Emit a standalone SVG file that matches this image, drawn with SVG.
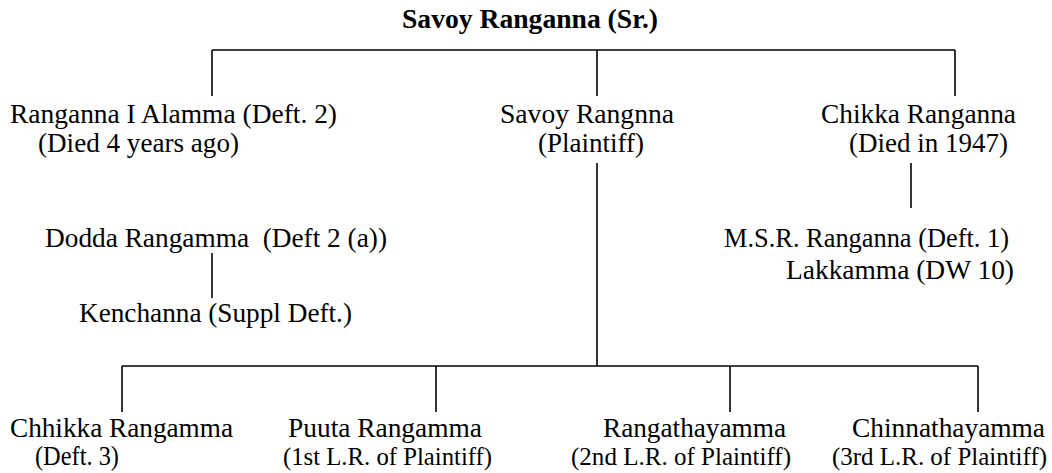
<svg xmlns="http://www.w3.org/2000/svg" width="1052" height="473" viewBox="0 0 1052 473">
<style>
text{font-family:"Liberation Serif","Times New Roman",serif;font-size:27px;fill:#000}
.b{font-weight:bold}
.s{font-size:25px}
.c line{stroke:#000;stroke-width:1.6}
</style>
<rect width="1052" height="473" fill="#fff"/>
<g class="c" id="connectors">
<line x1="212" y1="50" x2="955" y2="50"/>
<line x1="212" y1="50" x2="212" y2="96"/>
<line x1="597" y1="50" x2="597" y2="96"/>
<line x1="955" y1="50" x2="955" y2="96"/>
<line x1="597" y1="163" x2="597" y2="366"/>
<line x1="911" y1="163" x2="911" y2="208"/>
<line x1="212" y1="253" x2="212" y2="298"/>
<line x1="122" y1="366" x2="978" y2="366"/>
<line x1="122" y1="366" x2="122" y2="412"/>
<line x1="436" y1="366" x2="436" y2="412"/>
<line x1="730" y1="366" x2="730" y2="412"/>
<line x1="978" y1="366" x2="978" y2="412"/>
</g>
<g id="root"><text class="b" x="402" y="28" textLength="256" lengthAdjust="spacingAndGlyphs">Savoy Ranganna (Sr.)</text></g>
<g id="ranganna-alamma"><text x="10" y="123" textLength="327" lengthAdjust="spacingAndGlyphs">Ranganna I Alamma (Deft. 2)</text><text x="38" y="152" textLength="201" lengthAdjust="spacingAndGlyphs">(Died 4 years ago)</text></g>
<g id="savoy-rangnna"><text x="500" y="123" textLength="174" lengthAdjust="spacingAndGlyphs">Savoy Rangnna</text><text x="538" y="152" textLength="106" lengthAdjust="spacingAndGlyphs">(Plaintiff)</text></g>
<g id="chikka-ranganna"><text x="821" y="123" textLength="195" lengthAdjust="spacingAndGlyphs">Chikka Ranganna</text><text x="849" y="152" textLength="159" lengthAdjust="spacingAndGlyphs">(Died in 1947)</text></g>
<g id="dodda-rangamma"><text x="45" y="247" xml:space="preserve" textLength="342" lengthAdjust="spacingAndGlyphs">Dodda Rangamma  (Deft 2 (a))</text></g>
<g id="kenchanna"><text x="79" y="322" textLength="273" lengthAdjust="spacingAndGlyphs">Kenchanna (Suppl Deft.)</text></g>
<g id="msr-ranganna"><text x="724" y="247" textLength="285" lengthAdjust="spacingAndGlyphs">M.S.R. Ranganna (Deft. 1)</text><text x="786" y="279" textLength="228" lengthAdjust="spacingAndGlyphs">Lakkamma (DW 10)</text></g>
<g id="chhikka-rangamma"><text x="10" y="437" textLength="223" lengthAdjust="spacingAndGlyphs">Chhikka Rangamma</text><text x="35" y="465" textLength="84" lengthAdjust="spacingAndGlyphs">(Deft. 3)</text></g>
<g id="puuta-rangamma"><text x="288" y="437" textLength="194" lengthAdjust="spacingAndGlyphs">Puuta Rangamma</text><text class="s" x="283" y="465" textLength="209" lengthAdjust="spacingAndGlyphs">(1st L.R. of Plaintiff)</text></g>
<g id="rangathayamma"><text x="603" y="437" textLength="183" lengthAdjust="spacingAndGlyphs">Rangathayamma</text><text class="s" x="571" y="465" textLength="220" lengthAdjust="spacingAndGlyphs">(2nd L.R. of Plaintiff)</text></g>
<g id="chinnathayamma"><text x="852" y="437" textLength="193" lengthAdjust="spacingAndGlyphs">Chinnathayamma</text><text class="s" x="832" y="465" textLength="215" lengthAdjust="spacingAndGlyphs">(3rd L.R. of Plaintiff)</text></g>
</svg>
